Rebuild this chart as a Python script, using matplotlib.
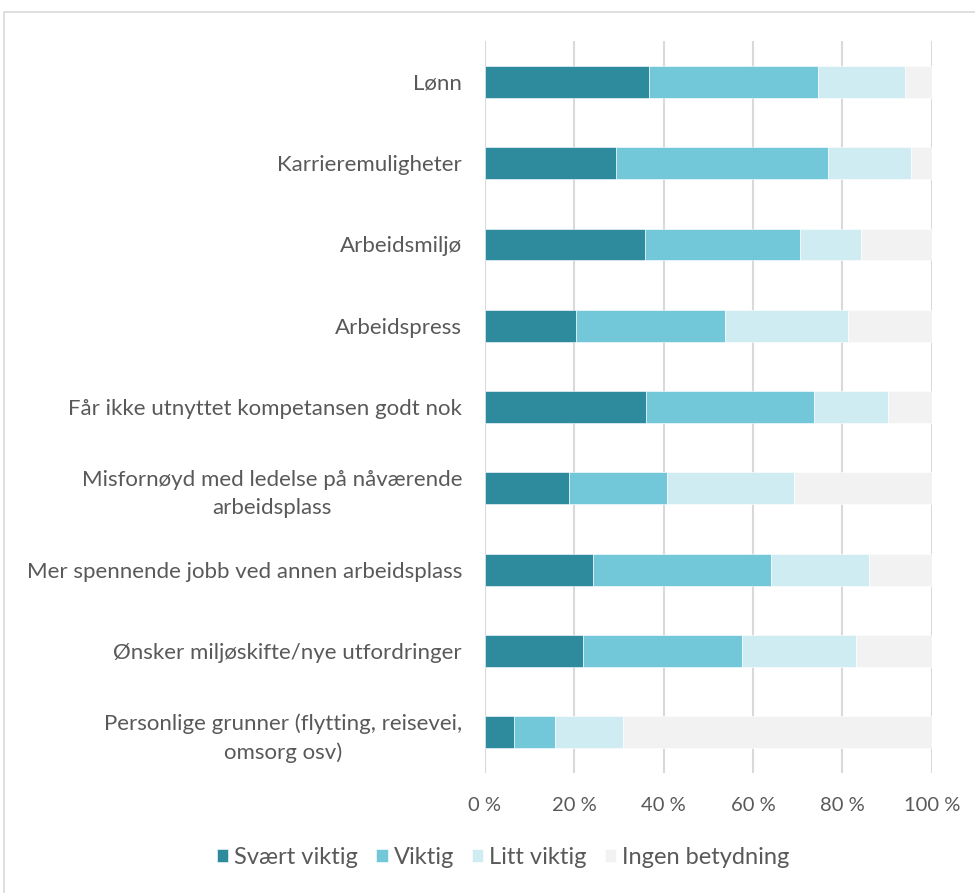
import matplotlib
matplotlib.use("Agg")
import matplotlib.pyplot as plt
from matplotlib.patches import Rectangle
import numpy as np

# Reasons for wanting to change jobs, share of answers (%)
categories = [
    "Lønn",
    "Karrieremuligheter",
    "Arbeidsmiljø",
    "Arbeidspress",
    "Får ikke utnyttet kompetansen godt nok",
    "Misfornøyd med ledelse på nåværende\narbeidsplass",
    "Mer spennende jobb ved annen arbeidsplass",
    "Ønsker miljøskifte/nye utfordringer",
    "Personlige grunner (flytting, reisevei,\nomsorg osv)",
]
svaert_viktig = [36.7, 29.3, 35.8, 20.4, 36.0, 18.9, 24.2, 22.0, 6.5]
viktig = [37.8, 47.5, 34.7, 33.3, 37.7, 21.8, 39.8, 35.5, 9.2]
litt_viktig = [19.5, 18.6, 13.7, 27.6, 16.5, 28.5, 22.0, 25.6, 15.2]
ingen_betydning = [6.0, 4.6, 15.8, 18.7, 9.8, 30.8, 14.0, 16.9, 69.1]

series = [
    ("Svært viktig", svaert_viktig, "#2E8B9E"),
    ("Viktig", viktig, "#72C7D8"),
    ("Litt viktig", litt_viktig, "#D0ECF3"),
    ("Ingen betydning", ingen_betydning, "#F2F2F2"),
]
x_ticks = [0, 20, 40, 60, 80, 100]

plt.rcParams["font.family"] = ["Lato", "DejaVu Sans"]
text_col = "#595959"

fig = plt.figure(figsize=(9.75, 8.93), dpi=100)
ax = fig.add_axes([0.4974, 0.1344, 0.4582, 0.8196])

# thin frame around the whole chart
fig.patches.append(Rectangle((4 / 975, -0.05), 1.2, 1.05 - 12 / 893,
                             transform=fig.transFigure, fill=False,
                             edgecolor="#D9D9D9", linewidth=1.2))

y = np.arange(len(categories))
left = np.zeros(len(categories))
for name, vals, col in series:
    ax.barh(y, vals, left=left, height=0.39, color=col, label=name,
            edgecolor="white", linewidth=0.4, zorder=3)
    left += np.array(vals)

ax.set_ylim(len(categories) - 0.5, -0.5)
ax.set_xlim(0, 100)
ax.set_xticks(x_ticks)
ax.set_xticklabels([f"{v} %" for v in x_ticks])
ax.set_yticks(y)
ax.set_yticklabels(categories)
for lbl in ax.get_yticklabels():
    lbl.set_multialignment("center")
    lbl.set_linespacing(1.5)

ax.grid(axis="x", color="#D9D9D9", linewidth=1.5, zorder=0)
for s in ax.spines.values():
    s.set_visible(False)
ax.tick_params(axis="both", length=0, colors=text_col)
ax.tick_params(axis="y", pad=16.5, labelsize=16)
ax.tick_params(axis="x", pad=17, labelsize=14.5)

leg = fig.legend(loc="center", bbox_to_anchor=(0.516, 0.040), ncol=4,
                 frameon=False, fontsize=17, handlelength=0.5,
                 handleheight=0.5, handletextpad=0.25, columnspacing=0.75)
for t in leg.get_texts():
    t.set_color(text_col)

fig.savefig("out.png", dpi=100)
